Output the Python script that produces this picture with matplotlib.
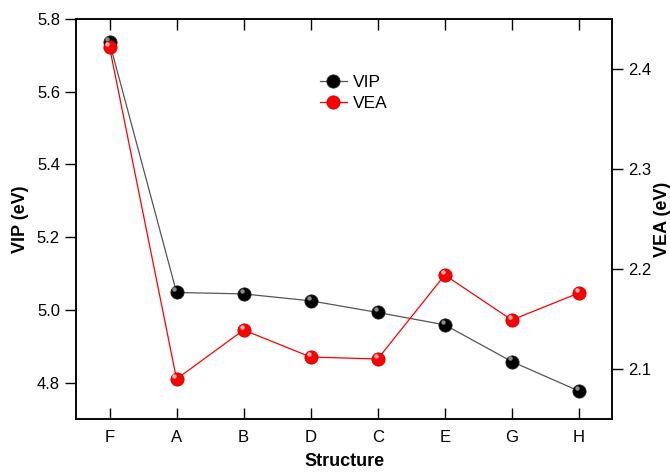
import numpy as np
import matplotlib
matplotlib.use('Agg')
import matplotlib.pyplot as plt
from matplotlib.transforms import offset_copy

plt.rcParams['font.family'] = ['Liberation Sans', 'DejaVu Sans']

structures = ['F', 'A', 'B', 'D', 'C', 'E', 'G', 'H']
vip = [5.736, 5.048, 5.044, 5.025, 4.993, 4.959, 4.858, 4.777]
vea = [2.422, 2.090, 2.139, 2.112, 2.110, 2.194, 2.149, 2.176]

x = np.arange(len(structures))

fig = plt.figure(figsize=(6.7, 4.74), dpi=100)
ax = fig.add_axes([0.1134, 0.116, 0.8006, 0.844])
ax2 = ax.twinx()


def balls(axis, xs, ys, color, shade, light, line_color, label):
    axis.plot(xs, ys, '-', color=line_color, lw=0.9, zorder=2)
    axis.plot(xs, ys, 'o', ms=9.5, mfc=color, mec=shade, mew=0.6, zorder=3)
    hl = offset_copy(axis.transData, fig=fig, x=-1.5, y=2.2, units='points')
    axis.plot(xs, ys, 'o', ms=3.2, mfc=light, mec='none', alpha=0.9,
              transform=hl, zorder=4)
    # legend handle
    return axis.plot([], [], '-o', color=line_color, lw=0.9, ms=9.5,
                     mfc=color, mec=shade, mew=0.6, label=label)[0]


h1 = balls(ax, x, vip, 'black', '#222222', '#9a9a9a', '#555555', 'VIP')
h2 = balls(ax2, x, vea, '#ff0000', '#cc0000', '#ffc8c8', '#ff0000', 'VEA')

ax.set_xlim(-0.5, 7.5)
ax.set_ylim(4.70, 5.80)
ax2.set_ylim(2.05, 2.45)

ax.set_xticks(x)
ax.set_xticklabels(structures)
ax.set_yticks([4.8, 5.0, 5.2, 5.4, 5.6, 5.8])
ax.set_yticklabels(['4.8', '5.0', '5.2', '5.4', '5.6', '5.8'])
ax2.set_yticks([2.1, 2.2, 2.3, 2.4])

ax.tick_params(axis='x', direction='in', top=True, length=8, width=1,
               labelsize=12, pad=8)
ax.tick_params(axis='y', direction='out', length=8, width=1, labelsize=12,
               right=False)
ax2.tick_params(axis='y', direction='out', length=8, width=1, labelsize=12)

for a in (ax, ax2):
    for s in a.spines.values():
        s.set_linewidth(1.1)

ax.set_xlabel('Structure', fontsize=13, fontweight='bold', labelpad=6)
ax.set_ylabel('VIP (eV)', fontsize=13, fontweight='bold', labelpad=6)
ax2.set_ylabel('VEA (eV)', fontsize=13, fontweight='bold', labelpad=2)

leg = ax.legend(handles=[h1, h2], loc='upper left',
                bbox_to_anchor=(0.425, 0.9), frameon=False, fontsize=12.5,
                handlelength=1.6, handletextpad=0.3, labelspacing=0.35)

fig.savefig('out.png', dpi=100)
